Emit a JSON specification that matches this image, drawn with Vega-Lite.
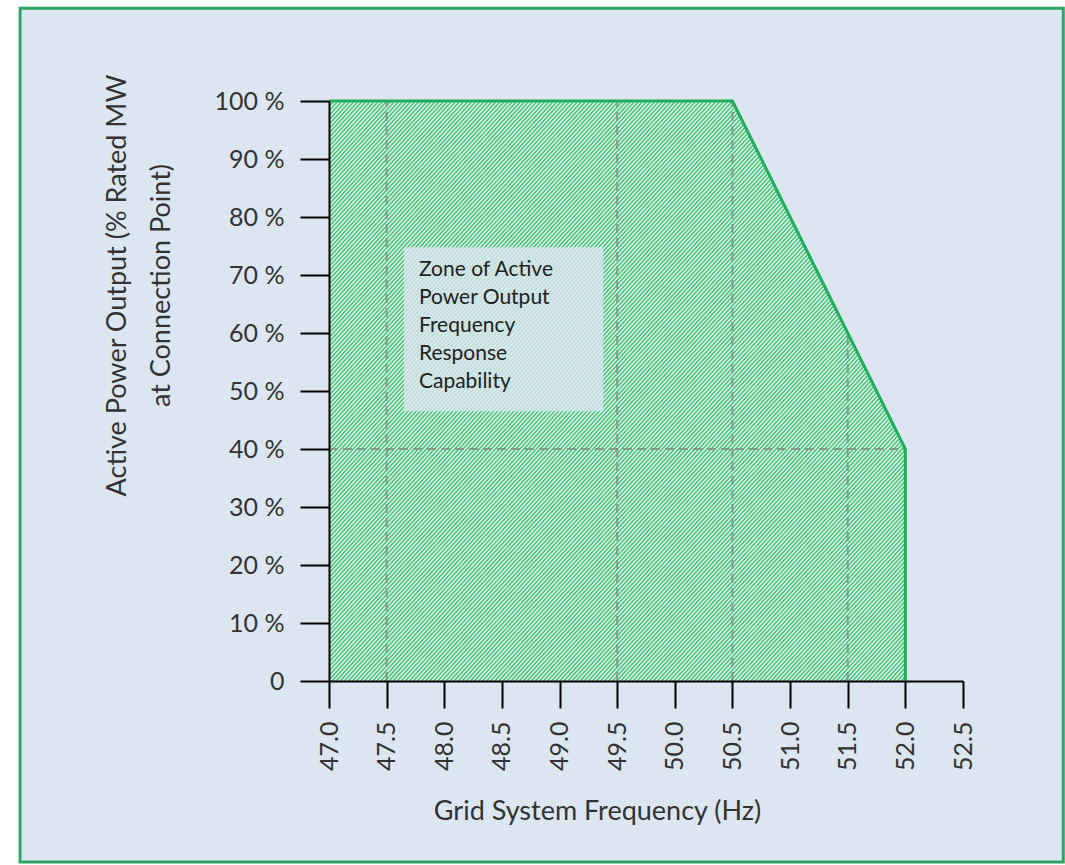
{
  "$schema": "https://vega.github.io/schema/vega-lite/v6.json",
  "width": 634,
  "height": 580,
  "autosize": {"type": "none"},
  "padding": {"left": 329, "top": 101, "right": 102, "bottom": 184},
  "background": "#ffffff",
  "config": {
    "view": {"stroke": null},
    "font": "Lato",
    "axis": {"domainColor": "#000000", "domainWidth": 2, "tickColor": "#000000", "tickWidth": 2, "labelColor": "#333333", "titleColor": "#333333", "labelFont": "Lato", "titleFont": "Lato", "titleFontWeight": "normal", "grid": false}
  },
  "datasets": {
    "zone": [
      {"i": 1, "freq": 47.0, "power": 100},
      {"i": 2, "freq": 50.5, "power": 100},
      {"i": 3, "freq": 52.0, "power": 40},
      {"i": 4, "freq": 52.0, "power": 0}
    ],
    "outside": [
      {"freq": 50.5, "lo": 100, "hi": 100},
      {"freq": 52.0, "lo": 40, "hi": 100},
      {"freq": 52.0, "lo": 0, "hi": 100},
      {"freq": 52.5, "lo": 0, "hi": 100}
    ],
    "diagonal": [
      {"freq": 47.0, "power": 100},
      {"freq": 52.5, "power": 0}
    ],
    "guides": [
      {"x": 47.5, "x2": 47.5, "y": 0, "y2": 100},
      {"x": 49.5, "x2": 49.5, "y": 0, "y2": 100},
      {"x": 50.5, "x2": 50.5, "y": 0, "y2": 100},
      {"x": 51.5, "x2": 51.5, "y": 0, "y2": 60},
      {"x": 47.0, "x2": 52.0, "y": 40, "y2": 40}
    ]
  },
  "layer": [
    {
      "data": {"values": [{}]},
      "mark": {"type": "rect", "fill": "#dce6f1", "stroke": "#2ea565", "strokeWidth": 3},
      "encoding": {
        "x": {"datum": 44.32, "type": "quantitative", "scale": {"domain": [47, 52.5]}},
        "x2": {"datum": 53.37},
        "y": {"datum": 116.0, "type": "quantitative", "scale": {"domain": [0, 100]}},
        "y2": {"datum": -31.2}
      }
    },
    {
      "data": {"name": "zone"},
      "mark": {"type": "area", "color": "#e2f5e9", "opacity": 1},
      "encoding": {
        "x": {"field": "freq", "type": "quantitative", "scale": {"domain": [47, 52.5]},
          "axis": {"zindex": 2, "values": [47, 47.5, 48, 48.5, 49, 49.5, 50, 50.5, 51, 51.5, 52, 52.5], "format": ".1f", "labelAngle": -90, "labelFontSize": 25, "labelPadding": 13, "tickSize": 27, "title": "Grid System Frequency (Hz)", "titleFontSize": 27, "titleBaseline": "middle", "titleX": 268, "titleY": 130}},
        "y": {"field": "power", "type": "quantitative", "scale": {"domain": [0, 100]},
          "axis": {"zindex": 2, "values": [0, 10, 20, 30, 40, 50, 60, 70, 80, 90, 100], "labelExpr": "datum.value == 0 ? '0' : datum.value + ' %'", "labelFontSize": 25, "labelPadding": 16, "tickSize": 29, "title": ["Active Power Output (% Rated MW", "at Connection Point)"], "titleFontSize": 27, "titleLineHeight": 44, "titleX": -198, "titleY": 184}},
        "order": {"field": "i"}
      }
    },
    {
      "data": {"name": "diagonal"},
      "mark": {"type": "line", "color": "#45c27b", "strokeWidth": 900, "strokeCap": "butt", "strokeDash": [1.5, 1.5], "clip": true},
      "encoding": {
        "x": {"field": "freq", "type": "quantitative"},
        "y": {"field": "power", "type": "quantitative"}
      }
    },
    {
      "data": {"name": "outside"},
      "mark": {"type": "area", "fill": "#dce6f1"},
      "encoding": {
        "x": {"field": "freq", "type": "quantitative"},
        "y": {"field": "hi", "type": "quantitative"},
        "y2": {"field": "lo"}
      }
    },
    {
      "data": {"name": "guides"},
      "mark": {"type": "rule", "color": "#7f8f84", "strokeWidth": 2, "strokeDash": [9, 5], "opacity": 0.85},
      "encoding": {
        "x": {"field": "x", "type": "quantitative"},
        "x2": {"field": "x2"},
        "y": {"field": "y", "type": "quantitative"},
        "y2": {"field": "y2"}
      }
    },
    {
      "data": {"name": "zone"},
      "mark": {"type": "line", "color": "#1fae5c", "strokeWidth": 3},
      "encoding": {
        "x": {"field": "freq", "type": "quantitative"},
        "y": {"field": "power", "type": "quantitative"},
        "order": {"field": "i"}
      }
    },
    {
      "data": {"values": [{}]},
      "mark": {"type": "rect", "fill": "#dce6f1", "opacity": 0.78},
      "encoding": {
        "x": {"datum": 47.65, "type": "quantitative"},
        "x2": {"datum": 49.38},
        "y": {"datum": 74.8, "type": "quantitative"},
        "y2": {"datum": 46.5}
      }
    },
    {
      "data": {"values": [{}]},
      "mark": {"type": "text", "align": "left", "baseline": "middle", "font": "Lato", "fontSize": 21, "lineHeight": 28, "color": "#222222", "text": ["Zone of Active", "Power Output", "Frequency", "Response", "Capability"]},
      "encoding": {
        "x": {"datum": 47.78, "type": "quantitative"},
        "y": {"datum": 70.9, "type": "quantitative"}
      }
    }
  ]
}
